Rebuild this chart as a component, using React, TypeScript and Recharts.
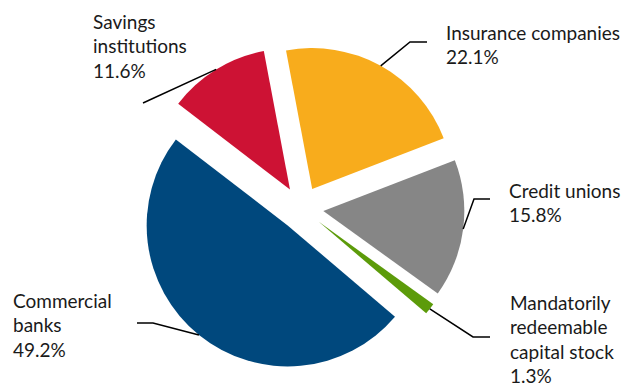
import { PieChart, Pie, Cell, Sector } from "recharts"

// holders, in drawing order (clockwise from just left of 12 o'clock)
const categories = [
  "Insurance companies",
  "Credit unions",
  "Mandatorily redeemable capital stock",
  "Commercial banks",
  "Savings institutions",
]
const shares = [22.1, 15.8, 1.3, 49.2, 11.6]
const labelLines = [
  ["Insurance companies"],
  ["Credit unions"],
  ["Mandatorily", "redeemable", "capital stock"],
  ["Commercial", "banks"],
  ["Savings", "institutions"],
]

const data = categories.map((name, i) => ({ name, value: shares[i] }))

const sliceColors = ["#F8AC1C", "#868686", "#5C9B0A", "#00487D", "#CD1234"]

// where each callout sits: leader elbow, leader end, text origin
const labelLayout = [
  { elbow: [410, 42], end: [427, 42], x: 446, y: 40 },
  { elbow: [474, 199], end: [490, 199], x: 509, y: 198 },
  { elbow: [473, 337], end: [490, 337], x: 510, y: 310 },
  { elbow: [153, 323], end: [137, 323], x: 13, y: 308 },
  { elbow: [143, 103], end: [143, 103], x: 93, y: 29 },
]

const RADIAN = Math.PI / 180
const EXPLODE = 22
const LINE_HEIGHT = 24.4

const ExplodedSector = (props: any) => {
  const { cx, cy, midAngle } = props
  const dx = EXPLODE * Math.cos(-midAngle * RADIAN)
  const dy = EXPLODE * Math.sin(-midAngle * RADIAN)
  return <Sector {...props} cx={cx + dx} cy={cy + dy} />
}

const renderLabel = (props: any) => {
  const { cx, cy, midAngle, outerRadius, index, value } = props
  const r = outerRadius + EXPLODE
  const ax = cx + r * Math.cos(-midAngle * RADIAN)
  const ay = cy + r * Math.sin(-midAngle * RADIAN)
  const lay = labelLayout[index]
  const lines = [...labelLines[index], `${value.toFixed(1)}%`]
  return (
    <g>
      <polyline
        points={`${ax},${ay} ${lay.elbow[0]},${lay.elbow[1]} ${lay.end[0]},${lay.end[1]}`}
        fill="none"
        stroke="#000"
        strokeWidth={1.5}
      />
      <text x={lay.x} y={lay.y} fill="#1a1a1a" fontSize={19} fontFamily="Lato">
        {lines.map((t, i) => (
          <tspan key={i} x={lay.x} y={lay.y + i * LINE_HEIGHT}>
            {t}
          </tspan>
        ))}
      </text>
    </g>
  )
}

export default function App() {
  return (
    <div style={{ position: "absolute", left: 0, top: 0, width: 629, height: 386, background: "#fff" }}>
      <PieChart width={629} height={386} margin={{ top: 0, right: 0, bottom: 0, left: 0 }}>
        <Pie
          data={data}
          dataKey="value"
          nameKey="name"
          cx={301.5}
          cy={208.3}
          outerRadius={141}
          startAngle={100.7}
          endAngle={-259.3}
          stroke="none"
          shape={ExplodedSector}
          label={renderLabel}
          labelLine={false}
          isAnimationActive={false}
        >
          {data.map((d, i) => (
            <Cell key={d.name} fill={sliceColors[i]} />
          ))}
        </Pie>
      </PieChart>
    </div>
  )
}
